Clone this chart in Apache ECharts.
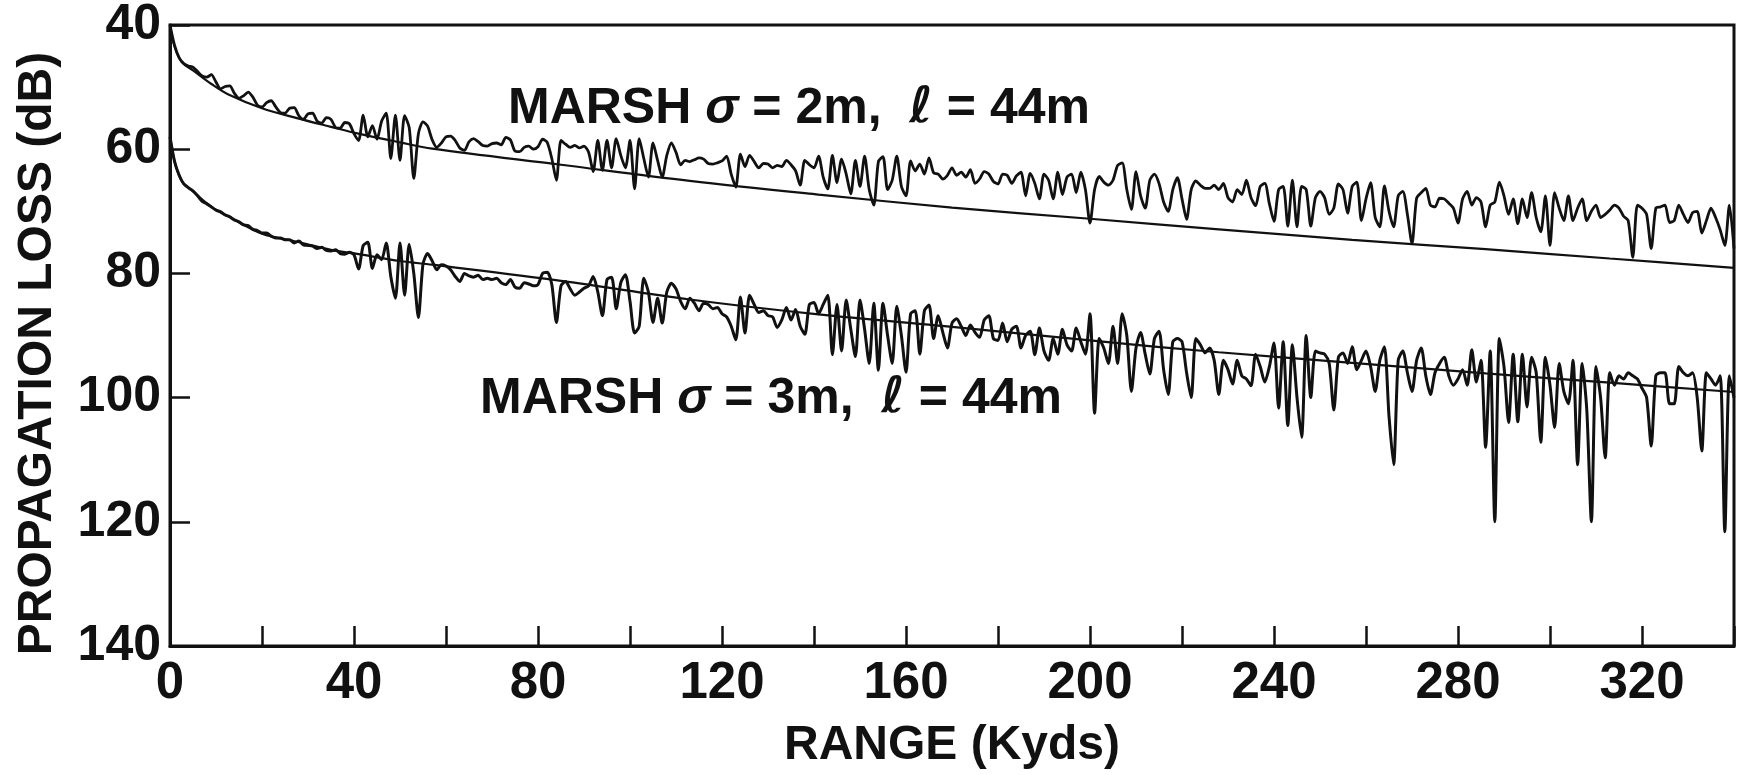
<!DOCTYPE html>
<html>
<head>
<meta charset="utf-8">
<title>Propagation loss vs range</title>
<script src="https://cdn.jsdelivr.net/npm/echarts@6/dist/echarts.min.js"></script>
<style>
  html, body { margin: 0; padding: 0; background: #fff; }
  #chart { width: 1740px; height: 775px; }
</style>
</head>
<body>
<div id="chart"></div>
<script>
// range (Kyds) knots for the two smooth reference curves
const smoothRange = [0, 1, 2.6, 5, 9, 12.7, 20, 27.6, 35, 41, 50, 57, 85, 113, 141, 170, 200, 228, 257, 286, 313, 340];
const smooth2m = [40, 43.5, 46, 47.3, 49.5, 51.2, 53.4, 55, 56.4, 57.5, 58.9, 59.9, 62.5, 65.1, 67.3, 69.4, 71.2, 72.9, 74.6, 76.1, 77.6, 79.1];
const smooth3m = [58, 62, 65.2, 66.8, 69.3, 70.8, 73.6, 74.9, 76.2, 76.9, 78, 78.6, 81.2, 84.2, 86.6, 88.6, 90.8, 92.7, 94.4, 96.1, 97.6, 99.1];

// rough-surface curves, read off every 1 Kyd from 0 to 340
const noisyStart = 0;
const noisyStep = 1;
const loss2m = [
  40, 43.3, 45.3, 46.2, 46.6, 46.8, 47.5, 48.2, 48.4, 48.0,       // 0-9
  49.2, 50.3, 49.9, 49.8, 51.0, 51.8, 51.4, 50.8, 51.6, 52.9,     // 10-19
  53.2, 52.5, 52.2, 53.2, 54.1, 54.2, 53.4, 53.3, 54.6, 55.2,     // 20-29
  54.3, 54.2, 55.5, 55.8, 54.9, 55.2, 56.5, 56.6, 55.7, 55.9,     // 30-39
  57.5, 58.6, 54.5, 58.0, 56.2, 58.4, 55.5, 54.2, 61.5, 54.5,     // 40-49
  61.8, 54.6, 56.5, 64.7, 57.5, 55.6, 56.3, 58.5, 59.7, 59.0,     // 50-59
  58.0, 57.9, 58.6, 59.8, 60.2, 58.8, 58.3, 58.8, 59.4, 59.5,     // 60-69
  59.1, 59.0, 59.3, 58.1, 58.5, 60.3, 60.4, 59.7, 59.5, 60.0,     // 70-79
  59.6, 58.4, 58.9, 61.5, 65.0, 58.6, 59.2, 59.7, 59.4, 59.8,     // 80-89
  59.5, 60.5, 63.6, 58.6, 63.4, 58.6, 63.0, 58.3, 61.0, 63.0,     // 90-99
  58.6, 66.4, 58.3, 61.5, 64.5, 59.0, 61.8, 64.5, 61.0, 59.0,     // 100-109
  60.5, 62.5, 61.8, 62.0, 61.7, 61.4, 61.6, 62.3, 62.4, 62.2,     // 110-119
  61.9, 61.1, 64.0, 66.1, 60.8, 62.8, 61.0, 62.0, 63.0, 62.3,     // 120-129
  62.4, 63.0, 62.6, 62.8, 61.8, 62.5, 63.5, 65.8, 61.8, 62.5,     // 130-139
  63.0, 61.1, 64.5, 66.4, 61.0, 65.4, 61.6, 64.0, 67.2, 61.8,     // 140-149
  66.0, 61.1, 66.5, 69.0, 62.0, 61.2, 66.5, 65.0, 61.1, 66.0,     // 150-159
  67.5, 61.9, 63.5, 62.4, 64.0, 61.4, 63.8, 64.0, 64.8, 64.2,     // 160-169
  63.0, 64.2, 63.7, 64.5, 63.3, 65.5, 64.8, 63.6, 64.0, 65.2,     // 170-179
  65.6, 64.0, 64.2, 65.5, 64.3, 63.7, 67.5, 63.9, 65.5, 68.0,     // 180-189
  64.0, 65.0, 68.0, 63.7, 67.3, 64.5, 64.0, 67.0, 63.7, 66.5,     // 190-199
  71.9, 66.5, 64.4, 65.3, 65.8, 65.0, 62.6, 62.2, 66.5, 69.7,     // 200-209
  63.6, 67.5, 69.5, 65.0, 64.0, 65.5, 68.5, 70.0, 66.5, 64.6,     // 210-219
  68.0, 71.3, 66.5, 65.1, 65.8, 66.3, 66.3, 65.8, 66.5, 65.5,     // 220-229
  67.8, 68.5, 66.5, 67.3, 65.0, 67.8, 69.1, 66.0, 65.5, 68.8,     // 230-239
  71.6, 66.5, 66.0, 72.4, 65.0, 72.5, 66.0, 66.5, 72.4, 67.8,     // 240-249
  66.8, 67.8, 70.5, 69.5, 65.6, 66.5, 70.3, 66.0, 65.3, 71.5,     // 250-259
  68.0, 65.4, 71.0, 72.5, 65.9, 70.0, 72.5, 67.5, 66.8, 70.5,     // 260-269
  75.2, 67.9, 67.0, 66.3, 69.0, 69.3, 67.9, 68.0, 68.7, 69.5,     // 270-279
  71.9, 68.0, 66.8, 69.0, 67.8, 68.5, 72.5, 69.0, 68.5, 65.3,     // 280-289
  67.5, 70.5, 68.0, 72.0, 68.0, 71.0, 67.0, 71.0, 73.3, 67.5,     // 290-299
  75.5, 67.0, 69.5, 71.5, 67.5, 71.5, 69.5, 68.0, 71.5, 70.0,     // 300-309
  69.0, 71.0, 70.5, 69.8, 69.0, 69.5, 70.8, 71.5, 77.4, 69.0,     // 310-319
  69.5, 70.5, 76.0, 69.5, 69.3, 69.0, 71.8, 71.5, 69.0, 70.5,     // 320-329
  71.8, 70.2, 70.0, 73.5, 71.5, 69.5, 71.0, 73.0, 75.5, 69.0,     // 330-339
  76.0                                                            // 340
];
const loss3m = [
  58, 62, 64.2, 65.6, 66.2, 66.7, 67.5, 68.4, 68.8, 69.3,         // 0-9
  69.8, 70.1, 70.6, 70.9, 71.4, 71.7, 72.2, 72.3, 72.9, 73.1,     // 10-19
  73.5, 73.5, 74.0, 74.3, 74.3, 74.6, 74.6, 75.1, 74.8, 75.4,     // 20-29
  75.5, 75.6, 76.0, 75.8, 76.3, 76.4, 76.2, 76.8, 76.9, 76.6,     // 30-39
  77.0, 79.3, 75.5, 75.0, 79.2, 77.0, 77.8, 75.1, 80.5, 84.0,     // 40-49
  75.1, 83.5, 75.3, 80.0, 87.1, 78.5, 76.8, 78.0, 79.4, 78.6,     // 50-59
  78.8, 79.4, 80.5, 81.3, 80.0, 80.4, 80.6, 80.3, 81.0, 80.8,     // 60-69
  81.0, 80.8, 81.5, 81.8, 81.0, 82.2, 82.4, 81.5, 81.7, 82.0,     // 70-79
  81.8, 80.0, 79.8, 81.8, 87.9, 82.0, 81.3, 82.5, 83.5, 83.0,     // 80-89
  82.4, 82.0, 80.5, 83.0, 86.8, 81.0, 80.6, 85.7, 81.5, 80.2,     // 90-99
  84.5, 89.6, 88.5, 80.8, 83.0, 87.9, 84.0, 88.0, 83.0, 81.6,     // 100-109
  82.5, 84.5, 85.7, 84.0, 84.8, 86.0, 84.8, 85.0, 85.7, 85.5,     // 110-119
  86.5, 87.0, 88.5, 90.7, 83.8, 89.6, 83.5, 85.0, 86.3, 86.0,     // 120-129
  86.8, 87.0, 88.7, 87.5, 85.5, 87.5, 85.8, 88.5, 89.8, 85.0,     // 130-139
  84.7, 86.5, 85.0, 83.5, 93.1, 85.0, 92.5, 84.3, 89.0, 93.4,     // 140-149
  84.3, 89.0, 94.5, 84.8, 95.6, 84.8, 90.0, 94.5, 85.3, 90.0,     // 150-159
  95.9, 86.5, 86.0, 93.0, 86.0, 85.1, 90.5, 86.8, 89.5, 92.0,     // 160-169
  88.0, 87.3, 88.5, 90.0, 88.3, 89.5, 90.3, 87.5, 86.8, 90.5,     // 170-179
  90.8, 88.0, 91.0, 89.0, 88.5, 92.0, 90.0, 89.3, 93.1, 88.8,     // 180-189
  92.5, 94.0, 90.5, 93.0, 89.0, 91.5, 92.5, 88.8, 91.0, 93.0,     // 190-199
  86.5, 102.5, 90.5, 92.0, 94.5, 88.5, 94.5, 86.5, 90.0, 99.0,    // 200-209
  92.0, 89.5, 93.0, 96.2, 90.5, 89.3, 95.5, 99.5, 91.0, 90.5,     // 210-219
  91.0, 96.0, 100.0, 90.5, 91.5, 92.8, 92.0, 94.0, 99.5, 94.0,    // 220-229
  95.5, 97.8, 94.0, 96.5, 97.0, 98.1, 93.0, 95.0, 97.5, 95.0,     // 230-239
  91.2, 101.7, 91.0, 104.5, 91.5, 100.0, 106.4, 90.0, 100.0, 92.5, // 240-249
  92.8, 93.0, 94.5, 102.0, 93.5, 92.8, 94.5, 91.8, 95.5, 94.0,    // 250-259
  92.5, 95.0, 99.0, 94.0, 91.8, 103.0, 110.8, 94.0, 92.5, 96.0,   // 260-269
  99.0, 94.0, 92.0, 96.5, 99.5, 96.0, 94.5, 93.5, 96.5, 98.0,     // 270-279
  97.0, 95.5, 98.0, 92.3, 97.5, 94.0, 108.0, 92.5, 120.0, 90.5,   // 280-289
  95.0, 104.0, 93.0, 103.9, 93.0, 101.5, 93.5, 96.0, 107.2, 93.5, // 290-299
  98.0, 104.8, 94.5, 99.0, 101.0, 94.0, 110.8, 94.5, 102.0, 120.0, // 300-309
  95.0, 100.0, 109.7, 96.0, 98.0, 96.5, 97.0, 96.0, 96.5, 97.0,   // 310-319
  98.5, 100.0, 107.8, 96.5, 96.0, 96.0, 101.0, 101.0, 95.0, 96.0, // 320-329
  96.5, 96.0, 100.0, 108.6, 96.0, 97.0, 98.0, 96.5, 121.6, 96.5,  // 330-339
  100.0                                                           // 340
];

const xMin = 0, xMax = 340;
const yMin = 40, yMax = 140;

const FONT = "'Liberation Sans', Arial, sans-serif";
const INK = "#111";

const toPairs = (xs, ys) => ys.map((y, i) => [xs[i], y]);
const noisyPairs = (ys) => ys.map((y, i) => [noisyStart + i * noisyStep, y]);

const chart = echarts.init(document.getElementById("chart"), null, { renderer: "canvas" });

const lineBase = {
  type: "line",
  showSymbol: false,
  symbol: "none",
  animation: false,
  silent: true,
};

const annoRich = {
  a: { fontFamily: FONT, fontWeight: "bold", fontSize: 50, fill: INK },
  s: { fontFamily: FONT, fontWeight: "bold", fontStyle: "italic", fontSize: 50, fill: INK },
  l: { fontFamily: "'DejaVu Sans', sans-serif", fontWeight: "bold", fontStyle: "italic", fontSize: 50, fill: INK },
};

const option = {
  backgroundColor: "#fff",
  animation: false,
  grid: {
    left: 170,
    right: 6,
    top: 24,
    bottom: 129,
    show: true,
    borderColor: INK,
    borderWidth: 3,
    containLabel: false,
  },
  xAxis: {
    type: "value",
    min: xMin,
    max: xMax,
    interval: 20,
    name: "RANGE (Kyds)",
    nameLocation: "middle",
    nameGap: 76,
    nameTextStyle: { fontFamily: FONT, fontWeight: "bold", fontSize: 48, color: INK },
    axisLine: { show: true, lineStyle: { color: INK, width: 3 } },
    axisTick: { show: true, inside: true, length: 20, lineStyle: { color: INK, width: 2.5 } },
    axisLabel: {
      margin: 12,
      fontFamily: FONT,
      fontWeight: "bold",
      fontSize: 51,
      color: INK,
      formatter: (v) => (v % 40 === 0 ? String(v) : ""),
    },
    splitLine: { show: false },
  },
  yAxis: {
    type: "value",
    inverse: true,
    min: yMin,
    max: yMax,
    interval: 20,
    name: "PROPAGATION LOSS (dB)",
    nameLocation: "middle",
    nameGap: 108,
    nameRotate: 90,
    nameTextStyle: { fontFamily: FONT, fontWeight: "bold", fontSize: 48, color: INK, padding: [0, 36, 0, 0] },
    axisLine: { show: true, lineStyle: { color: INK, width: 3 } },
    axisTick: { show: true, inside: true, length: 20, lineStyle: { color: INK, width: 2.5 } },
    axisLabel: { margin: 9, fontFamily: FONT, fontWeight: "bold", fontSize: 50, color: INK },
    splitLine: { show: false },
  },
  series: [
    { ...lineBase, name: "smooth 2m", data: toPairs(smoothRange, smooth2m), smooth: 0.35,
      lineStyle: { color: INK, width: 2.2 } },
    { ...lineBase, name: "smooth 3m", data: toPairs(smoothRange, smooth3m), smooth: 0.35,
      lineStyle: { color: INK, width: 2.2 } },
    { ...lineBase, name: "MARSH sigma=2m", data: noisyPairs(loss2m), smooth: 0.25,
      lineStyle: { color: INK, width: 2.8, join: "round" } },
    { ...lineBase, name: "MARSH sigma=3m", data: noisyPairs(loss3m), smooth: 0.25,
      lineStyle: { color: INK, width: 3, join: "round" } },
  ],
  graphic: [
    {
      type: "text",
      left: 508,
      top: 84,
      silent: true,
      style: { text: "{a|MARSH }{s|σ}{a| = 2m,  }{l|ℓ}{a| = 44m}", rich: annoRich },
    },
    {
      type: "text",
      left: 480,
      top: 374,
      silent: true,
      style: { text: "{a|MARSH }{s|σ}{a| = 3m,  }{l|ℓ}{a| = 44m}", rich: annoRich },
    },
  ],
};

chart.setOption(option);
</script>
</body>
</html>
